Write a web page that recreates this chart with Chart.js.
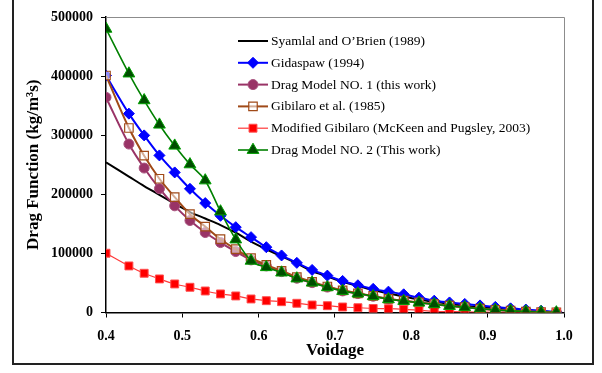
<!DOCTYPE html>
<html><head><meta charset="utf-8">
<script src="https://cdn.jsdelivr.net/npm/chart.js@4.4.0/dist/chart.umd.min.js"></script>
<style>html,body{margin:0;padding:0;background:#fff;}</style>
</head><body>
<canvas id="c" width="602" height="373"></canvas>
<script>
// ---- data ----
const voidage = [0.40, 0.43, 0.45, 0.47, 0.49, 0.51, 0.53, 0.55, 0.57, 0.59, 0.61, 0.63, 0.65, 0.67, 0.69, 0.71, 0.73, 0.75, 0.77, 0.79, 0.81, 0.83, 0.85, 0.87, 0.89, 0.91, 0.93, 0.95, 0.97, 0.99];
const syamlal = [254000, 230000, 214000, 199000, 184000, 170000, 159000, 148000, 135000, 120000, 107000, 95000, 83000, 70000, 61000, 52000, 45000, 38000, 32000, 27000, 22000, 18000, 14500, 11500, 9000, 6800, 4800, 3000, 1600, 500];
const gidaspow = [401000, 336500, 299700, 265800, 237000, 209300, 185100, 163600, 144400, 127500, 110500, 96500, 84000, 72000, 62400, 53400, 46100, 40000, 35300, 30800, 25100, 20000, 17000, 14500, 12000, 9500, 7000, 5000, 3000, 1000];
const dragModel1 = [364000, 285000, 244400, 209500, 180500, 155600, 135300, 118300, 103100, 89000, 78800, 69200, 58000, 50500, 43000, 36500, 32000, 27500, 22800, 19600, 16700, 14000, 11200, 8800, 6500, 4300, 3000, 1500, 500, 100];
const gibilaro = [401000, 312200, 265300, 226300, 195300, 166400, 145400, 124000, 107100, 91900, 80500, 70500, 60000, 52000, 44000, 37500, 32500, 28000, 23000, 20000, 17000, 14200, 11500, 9000, 6600, 4500, 3100, 1600, 600, 100];
const modGibilaro = [100300, 78800, 66400, 56800, 48300, 42700, 36400, 31400, 28000, 22900, 20000, 18300, 15600, 12700, 11500, 9300, 8100, 6800, 6400, 5400, 3700, 2000, 1500, 1000, 700, 400, 200, 100, 50, 0];
const dragModel2 = [480000, 404300, 359000, 317800, 282200, 250600, 223400, 170900, 123500, 87500, 76600, 67500, 57500, 50500, 42700, 36400, 32000, 27500, 22400, 19500, 16600, 13900, 11000, 8800, 6400, 4200, 3000, 1400, 500, 100];
const seriesNames = ["Syamlal and O\u2019Brien (1989)", "Gidaspaw (1994)", "Drag Model NO. 1 (this work)", "Gibilaro et al. (1985)", "Modified Gibilaro (McKeen and Pugsley, 2003)", "Drag Model NO. 2 (This work)"];
const xTickLabels = ["0.4", "0.5", "0.6", "0.7", "0.8", "0.9", "1.0"];
const yTickLabels = ["0", "100000", "200000", "300000", "400000", "500000"];
const xTitle = "Voidage";
const yTitle = "Drag Function (kg/m\u00B3s)";

const FONT = "'Liberation Serif', 'Times New Roman', serif";
Chart.defaults.font.family = FONT;
Chart.defaults.color = '#000';

const pts = arr => arr.map((v, i) => ({x: voidage[i], y: v}));

function drawMarker(ctx, style, x, y, r, fill, stroke, bw) {
  ctx.save();
  ctx.beginPath();
  if (style === 'circle') {
    ctx.arc(x, y, r, 0, Math.PI * 2);
  } else if (style === 'rect') {
    const s = r * Math.SQRT1_2;
    ctx.rect(x - s, y - s, 2 * s, 2 * s);
  } else if (style === 'rectRot') {
    ctx.moveTo(x, y - r); ctx.lineTo(x + r, y); ctx.lineTo(x, y + r); ctx.lineTo(x - r, y); ctx.closePath();
  } else if (style === 'triangle') {
    let a = 0;
    ctx.moveTo(x + Math.sin(a) * r, y - Math.cos(a) * r);
    a += 2 * Math.PI / 3; ctx.lineTo(x + Math.sin(a) * r, y - Math.cos(a) * r);
    a += 2 * Math.PI / 3; ctx.lineTo(x + Math.sin(a) * r, y - Math.cos(a) * r);
    ctx.closePath();
  }
  ctx.fillStyle = fill; ctx.fill();
  ctx.lineWidth = bw; ctx.strokeStyle = stroke; ctx.stroke();
  ctx.restore();
}

const framePlugin = {
  id: 'frame',
  beforeDraw(chart) {
    const ctx = chart.ctx;
    ctx.save(); ctx.fillStyle = '#fff'; ctx.fillRect(0, 0, chart.width, chart.height); ctx.restore();
  },
  beforeDatasetsDraw(chart) {
    const {ctx, chartArea: a} = chart;
    ctx.save();
    ctx.strokeStyle = '#8c8c8c'; ctx.lineWidth = 1;
    ctx.beginPath();
    ctx.moveTo(a.left, a.top + 0.5); ctx.lineTo(a.right + 0.5, a.top + 0.5); ctx.lineTo(a.right + 0.5, a.bottom);
    ctx.stroke();
    ctx.restore();
  },
  afterDraw(chart) {
    const ctx = chart.ctx;
    ctx.save();
    ctx.strokeStyle = '#222'; ctx.lineWidth = 2;
    ctx.strokeRect(13, -5, 580, 369);
    ctx.restore();
  }
};

const legendPlugin = {
  id: 'customLegend',
  afterDatasetsDraw(chart) {
    const ctx = chart.ctx;
    ctx.save();
    chart.data.datasets.forEach((ds, i) => {
      const y = 41 + i * 21.8;
      ctx.strokeStyle = ds.borderColor; ctx.lineWidth = ds.borderWidth;
      ctx.beginPath(); ctx.moveTo(238, y); ctx.lineTo(268, y); ctx.stroke();
      if (ds.pointRadius > 0) drawMarker(ctx, ds.pointStyle, 253, y, ds.pointRadius, ds.pointBackgroundColor, ds.pointBorderColor, ds.pointBorderWidth);
      ctx.fillStyle = '#000';
      ctx.font = '13.5px ' + FONT;
      ctx.textBaseline = 'middle';
      ctx.textAlign = 'left';
      ctx.fillText(ds.label, 271, y + 0.5);
    });
    ctx.restore();
  }
};

const common = {fill: false, cubicInterpolationMode: 'monotone'};
new Chart(document.getElementById('c'), {
  type: 'line',
  data: {
    datasets: [
      Object.assign({label: seriesNames[0], data: pts(syamlal), borderColor: '#000', borderWidth: 2, pointRadius: 0, pointStyle: 'circle', pointBackgroundColor: '#000', pointBorderColor: '#000', pointBorderWidth: 0, order: 6}, common),
      Object.assign({label: seriesNames[1], data: pts(gidaspow), borderColor: '#0000ff', borderWidth: 2, pointRadius: 5.5, pointStyle: 'rectRot', pointBackgroundColor: '#0000ff', pointBorderColor: '#0000ff', pointBorderWidth: 1, order: 5}, common),
      Object.assign({label: seriesNames[2], data: pts(dragModel1), borderColor: '#993366', borderWidth: 2, pointRadius: 5, pointStyle: 'circle', pointBackgroundColor: '#993366', pointBorderColor: '#a8527e', pointBorderWidth: 1, order: 4}, common),
      Object.assign({label: seriesNames[3], data: pts(gibilaro), borderColor: '#a04a18', borderWidth: 2, pointRadius: 6, pointStyle: 'rect', pointBackgroundColor: 'rgba(255,255,255,0.55)', pointBorderColor: '#a04a18', pointBorderWidth: 1.2, order: 3}, common),
      Object.assign({label: seriesNames[4], data: pts(modGibilaro), borderColor: '#ff3a3a', borderWidth: 1.2, pointRadius: 5.6, pointStyle: 'rect', pointBackgroundColor: '#ff0000', pointBorderColor: '#ff5050', pointBorderWidth: 1, order: 2}, common),
      Object.assign({label: seriesNames[5], data: pts(dragModel2), borderColor: '#008000', borderWidth: 1.6, pointRadius: 6.8, pointStyle: 'triangle', pointBackgroundColor: '#004d00', pointBorderColor: '#00a000', pointBorderWidth: 1, order: 1}, common)
    ]
  },
  options: {
    responsive: false,
    animation: false,
    layout: {padding: {left: 15, right: 38, top: 17, bottom: 10}},
    plugins: {legend: {display: false}, tooltip: {enabled: false}},
    scales: {
      x: {
        type: 'linear', min: 0.4, max: 1.0,
        afterFit(s) { s.height = 50.5; },
        ticks: {stepSize: 0.1, padding: 10, font: {size: 14, weight: 'bold'}, color: '#000',
          callback: v => xTickLabels[Math.round((v - 0.4) * 10)]},
        grid: {display: true, drawOnChartArea: false, drawTicks: true, tickLength: 5, color: '#000', lineWidth: 1},
        border: {display: true, color: '#000', width: 1.5},
        title: {display: true, text: xTitle, font: {size: 17, weight: 'bold'}, color: '#000', padding: {top: 0, bottom: 2}}
      },
      y: {
        min: 0, max: 500000,
        afterFit(s) { s.width = 91; },
        ticks: {stepSize: 100000, padding: 8, font: {size: 14, weight: 'bold'}, color: '#000',
          callback: v => yTickLabels[Math.round(v / 100000)]},
        grid: {display: true, drawOnChartArea: false, drawTicks: true, tickLength: 5, color: '#000', lineWidth: 1},
        border: {display: true, color: '#000', width: 1.5},
        title: {display: true, text: yTitle, font: {size: 17, weight: 'bold'}, color: '#000', padding: {top: 8, bottom: 0}}
      }
    }
  },
  plugins: [framePlugin, legendPlugin]
});
</script>
</body></html>
